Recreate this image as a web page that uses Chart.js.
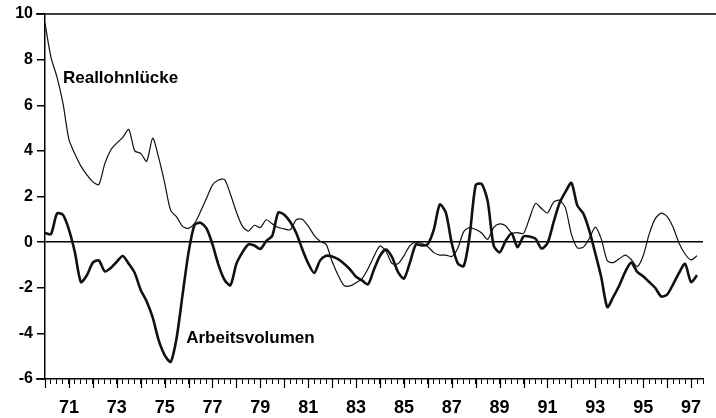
<!DOCTYPE html>
<html>
<head>
<meta charset="utf-8">
<script src="https://cdn.jsdelivr.net/npm/chart.js@4.4.1/dist/chart.umd.min.js"></script>
<style>
  html, body { margin: 0; padding: 0; background: #fff; }
</style>
</head>
<body>
<canvas id="chart" width="716" height="418"></canvas>
<script>
// quarterly values, 1970 Q1 .. 1997 Q2
const startYear = 1970;

const reallohn = [
  9.6, 8.1, 7.24, 6.09, 4.5, 3.86, 3.33, 2.95, 2.64, 2.52,
  3.44, 4.04, 4.34, 4.59, 4.94, 4.0, 3.89, 3.54, 4.56, 3.7,
  2.6, 1.39, 1.11, 0.69, 0.6, 0.82, 1.34, 1.92, 2.5, 2.72,
  2.75, 2.1, 1.32, 0.7, 0.48, 0.74, 0.64, 0.98, 0.8, 0.64,
  0.58, 0.54, 0.98, 1.0, 0.7, 0.3, 0.04, -0.1, -0.85, -1.45,
  -1.9, -1.92, -1.78, -1.6, -1.17, -0.62, -0.17, -0.4, -0.93, -0.95,
  -0.6, -0.15, 0.0, -0.06, -0.2, -0.46, -0.57, -0.57, -0.63, -0.27,
  0.46, 0.64, 0.55, 0.4, 0.12, 0.64, 0.8, 0.72, 0.4, 0.42,
  0.38, 1.05, 1.7, 1.47, 1.28, 1.74, 1.84, 1.5, 0.35, -0.25,
  -0.22, 0.16, 0.66, 0.13, -0.82, -0.9, -0.73, -0.57, -0.76, -1.08,
  -0.6, 0.35, 1.02, 1.27, 1.12, 0.65, -0.05, -0.52, -0.78, -0.6
];

const arbeitsvolumen = [
  0.4, 0.35, 1.25, 1.2, 0.55, -0.45, -1.75, -1.45, -0.9, -0.8,
  -1.28, -1.13, -0.86, -0.61, -0.95, -1.35, -2.1, -2.6, -3.3, -4.3,
  -4.95, -5.25, -4.2, -2.3, -0.45, 0.75, 0.85, 0.6, -0.1, -1.0,
  -1.65, -1.89, -0.95, -0.45, -0.1, -0.15, -0.3, 0.05, 0.28, 1.3,
  1.2, 0.88, 0.4, -0.3, -0.93, -1.35, -0.8, -0.6, -0.63, -0.75,
  -0.95, -1.2, -1.52, -1.68, -1.85, -1.2, -0.6, -0.32, -0.65, -1.3,
  -1.6, -0.9, -0.1, -0.15, -0.08, 0.55, 1.65, 1.3, -0.05, -0.93,
  -1.05, 0.3, 2.5, 2.55, 1.8, -0.15, -0.45, 0.05, 0.38, -0.22,
  0.25, 0.25, 0.15, -0.28, -0.05, 0.85, 1.7, 2.2, 2.6, 1.6,
  1.25, 0.5, -0.5, -1.55, -2.85, -2.4, -1.9, -1.3, -0.9, -1.3,
  -1.5, -1.75, -2.0, -2.38, -2.3, -1.85, -1.35, -0.95, -1.75, -1.45
];

const quarters = reallohn.map((_, i) => startYear + i / 4);

const yearTicks = [1971, 1973, 1975, 1977, 1979, 1981, 1983, 1985, 1987, 1989, 1991, 1993, 1995, 1997];
const yearLabels = ['71', '73', '75', '77', '79', '81', '83', '85', '87', '89', '91', '93', '95', '97'];

const seriesNames = ['Reallohnlücke', 'Arbeitsvolumen'];

const FONT = '"Liberation Sans", Arial, Helvetica, sans-serif';

// longer ticks on full years, top frame line, series names
const extras = {
  id: 'extras',
  afterDraw(chart, args, opts) {
    const { ctx, scales: { x, y } } = chart;
    ctx.save();
    ctx.strokeStyle = '#000';
    ctx.lineWidth = 1.2;
    for (let yr = Math.ceil(x.min); yr <= x.max; yr++) {
      const px = Math.round(x.getPixelForValue(yr)) + 0.5;
      ctx.beginPath();
      ctx.moveTo(px, x.top);
      ctx.lineTo(px, x.top + 9);
      ctx.stroke();
    }
    ctx.lineWidth = 1.5;
    ctx.beginPath();
    ctx.moveTo(x.left - 9, y.top);
    ctx.lineTo(chart.width, y.top);
    ctx.moveTo(x.left - 9, x.top);
    ctx.lineTo(x.left, x.top);
    ctx.stroke();

    ctx.fillStyle = '#000';
    ctx.font = 'bold 17px ' + FONT;
    ctx.textBaseline = 'middle';
    opts.names.forEach(n => {
      ctx.fillText(n.text, x.getPixelForValue(n.x), y.getPixelForValue(n.y));
    });
    ctx.restore();
  }
};

new Chart(document.getElementById('chart'), {
  type: 'line',
  data: {
    datasets: [
      {
        label: seriesNames[0],
        data: quarters.map((q, i) => ({ x: q, y: reallohn[i] })),
        borderColor: '#111',
        borderWidth: 1.2,
        pointRadius: 0,
        tension: 0.25
      },
      {
        label: seriesNames[1],
        data: quarters.map((q, i) => ({ x: q, y: arbeitsvolumen[i] })),
        borderColor: '#111',
        borderWidth: 2.6,
        pointRadius: 0,
        tension: 0.25
      }
    ]
  },
  options: {
    responsive: false,
    animation: false,
    devicePixelRatio: 1,
    layout: { padding: { top: 14, right: 4, left: 0, bottom: 0 } },
    plugins: {
      legend: { display: false },
      tooltip: { enabled: false },
      extras: {
        names: [
          { text: seriesNames[0], x: 1970.75, y: 7.2 },
          { text: seriesNames[1], x: 1975.9, y: -4.2 }
        ]
      }
    },
    scales: {
      x: {
        type: 'linear',
        min: 1970,
        max: 1997.5,
        border: { display: true, color: '#000', width: 1.5 },
        grid: { drawOnChartArea: false, drawTicks: true, tickLength: 5, tickColor: '#000', color: '#000' },
        ticks: {
          stepSize: 0.25,
          autoSkip: false,
          maxRotation: 0,
          padding: 13,
          color: '#000',
          font: { family: FONT, size: 18, weight: 'bold' },
          callback: v => {
            const k = yearTicks.indexOf(v);
            return k >= 0 ? yearLabels[k] : '';
          }
        },
        afterFit: s => { s.height = 39; }
      },
      y: {
        min: -6,
        max: 10,
        border: { display: true, color: '#000', width: 1.5 },
        grid: {
          color: c => (c.tick && c.tick.value === 0 ? '#000' : 'rgba(0,0,0,0)'),
          lineWidth: 1.5,
          drawTicks: true,
          tickLength: 8,
          tickColor: '#000'
        },
        ticks: {
          stepSize: 2,
          padding: 4,
          color: '#000',
          font: { family: FONT, size: 16, weight: 'bold' }
        },
        afterFit: s => { s.width = 45; }
      }
    }
  },
  plugins: [extras]
});
</script>
</body>
</html>
